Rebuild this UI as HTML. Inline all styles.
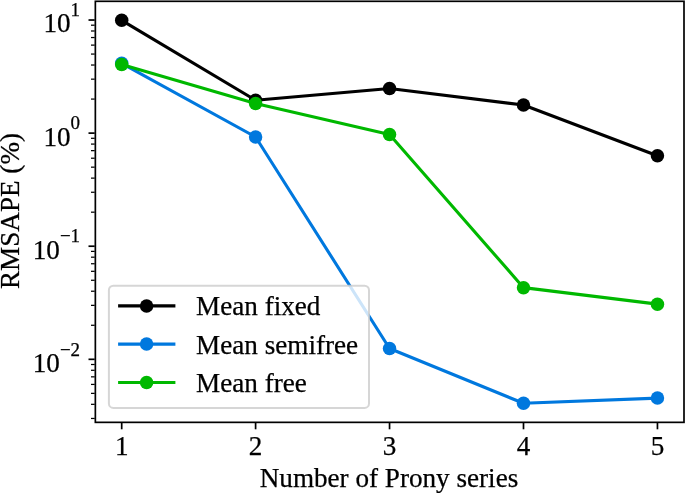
<!DOCTYPE html>
<html lang="en"><head><meta charset="utf-8"><title>RMSAPE vs Number of Prony series</title>
<style>html,body{margin:0;padding:0;background:#fff;overflow:hidden}svg{display:block}text{stroke:#000;stroke-width:0.25px;font-family:"Liberation Serif","Times New Roman",Times,serif;fill:#000}</style></head><body>
<svg width="685" height="493" viewBox="0 0 685 493">
<rect x="0" y="0" width="685" height="493" fill="#fff"/>
<g><line x1="88.50" x2="94.70" y1="20.03" y2="20.03" stroke="#000" stroke-width="1.7"/><line x1="88.50" x2="94.70" y1="133.12" y2="133.12" stroke="#000" stroke-width="1.7"/><line x1="88.50" x2="94.70" y1="246.22" y2="246.22" stroke="#000" stroke-width="1.7"/><line x1="88.50" x2="94.70" y1="359.32" y2="359.32" stroke="#000" stroke-width="1.7"/><line x1="91.00" x2="94.70" y1="99.08" y2="99.08" stroke="#000" stroke-width="1.25"/><line x1="91.00" x2="94.70" y1="79.16" y2="79.16" stroke="#000" stroke-width="1.25"/><line x1="91.00" x2="94.70" y1="65.03" y2="65.03" stroke="#000" stroke-width="1.25"/><line x1="91.00" x2="94.70" y1="54.07" y2="54.07" stroke="#000" stroke-width="1.25"/><line x1="91.00" x2="94.70" y1="45.12" y2="45.12" stroke="#000" stroke-width="1.25"/><line x1="91.00" x2="94.70" y1="37.54" y2="37.54" stroke="#000" stroke-width="1.25"/><line x1="91.00" x2="94.70" y1="30.99" y2="30.99" stroke="#000" stroke-width="1.25"/><line x1="91.00" x2="94.70" y1="25.20" y2="25.20" stroke="#000" stroke-width="1.25"/><line x1="91.00" x2="94.70" y1="212.18" y2="212.18" stroke="#000" stroke-width="1.25"/><line x1="91.00" x2="94.70" y1="192.26" y2="192.26" stroke="#000" stroke-width="1.25"/><line x1="91.00" x2="94.70" y1="178.13" y2="178.13" stroke="#000" stroke-width="1.25"/><line x1="91.00" x2="94.70" y1="167.17" y2="167.17" stroke="#000" stroke-width="1.25"/><line x1="91.00" x2="94.70" y1="158.22" y2="158.22" stroke="#000" stroke-width="1.25"/><line x1="91.00" x2="94.70" y1="150.64" y2="150.64" stroke="#000" stroke-width="1.25"/><line x1="91.00" x2="94.70" y1="144.09" y2="144.09" stroke="#000" stroke-width="1.25"/><line x1="91.00" x2="94.70" y1="138.30" y2="138.30" stroke="#000" stroke-width="1.25"/><line x1="91.00" x2="94.70" y1="325.28" y2="325.28" stroke="#000" stroke-width="1.25"/><line x1="91.00" x2="94.70" y1="305.36" y2="305.36" stroke="#000" stroke-width="1.25"/><line x1="91.00" x2="94.70" y1="291.23" y2="291.23" stroke="#000" stroke-width="1.25"/><line x1="91.00" x2="94.70" y1="280.27" y2="280.27" stroke="#000" stroke-width="1.25"/><line x1="91.00" x2="94.70" y1="271.32" y2="271.32" stroke="#000" stroke-width="1.25"/><line x1="91.00" x2="94.70" y1="263.74" y2="263.74" stroke="#000" stroke-width="1.25"/><line x1="91.00" x2="94.70" y1="257.19" y2="257.19" stroke="#000" stroke-width="1.25"/><line x1="91.00" x2="94.70" y1="251.40" y2="251.40" stroke="#000" stroke-width="1.25"/><line x1="91.00" x2="94.70" y1="418.46" y2="418.46" stroke="#000" stroke-width="1.25"/><line x1="91.00" x2="94.70" y1="404.33" y2="404.33" stroke="#000" stroke-width="1.25"/><line x1="91.00" x2="94.70" y1="393.37" y2="393.37" stroke="#000" stroke-width="1.25"/><line x1="91.00" x2="94.70" y1="384.42" y2="384.42" stroke="#000" stroke-width="1.25"/><line x1="91.00" x2="94.70" y1="376.84" y2="376.84" stroke="#000" stroke-width="1.25"/><line x1="91.00" x2="94.70" y1="370.29" y2="370.29" stroke="#000" stroke-width="1.25"/><line x1="91.00" x2="94.70" y1="364.50" y2="364.50" stroke="#000" stroke-width="1.25"/><line x1="121.70" x2="121.70" y1="423.00" y2="429.30" stroke="#000" stroke-width="1.7"/><line x1="255.60" x2="255.60" y1="423.00" y2="429.30" stroke="#000" stroke-width="1.7"/><line x1="389.55" x2="389.55" y1="423.00" y2="429.30" stroke="#000" stroke-width="1.7"/><line x1="523.50" x2="523.50" y1="423.00" y2="429.30" stroke="#000" stroke-width="1.7"/><line x1="657.45" x2="657.45" y1="423.00" y2="429.30" stroke="#000" stroke-width="1.7"/></g>
<g><polyline points="121.70,20.35 255.60,100.20 389.55,88.50 523.50,105.00 657.45,155.75" fill="none" stroke="#000000" stroke-width="3.1" stroke-linejoin="round" stroke-linecap="butt"/><circle cx="121.70" cy="20.35" r="6.75" fill="#000000"/><circle cx="255.60" cy="100.20" r="6.75" fill="#000000"/><circle cx="389.55" cy="88.50" r="6.75" fill="#000000"/><circle cx="523.50" cy="105.00" r="6.75" fill="#000000"/><circle cx="657.45" cy="155.75" r="6.75" fill="#000000"/><polyline points="121.70,63.30 255.60,137.00 389.55,348.50 523.50,403.30 657.45,398.10" fill="none" stroke="#0078DE" stroke-width="3.1" stroke-linejoin="round" stroke-linecap="butt"/><circle cx="121.70" cy="63.30" r="6.75" fill="#0078DE"/><circle cx="255.60" cy="137.00" r="6.75" fill="#0078DE"/><circle cx="389.55" cy="348.50" r="6.75" fill="#0078DE"/><circle cx="523.50" cy="403.30" r="6.75" fill="#0078DE"/><circle cx="657.45" cy="398.10" r="6.75" fill="#0078DE"/><polyline points="121.70,64.40 255.60,103.40 389.55,134.40 523.50,287.65 657.45,304.15" fill="none" stroke="#00B800" stroke-width="3.1" stroke-linejoin="round" stroke-linecap="butt"/><circle cx="121.70" cy="64.40" r="6.75" fill="#00B800"/><circle cx="255.60" cy="103.40" r="6.75" fill="#00B800"/><circle cx="389.55" cy="134.40" r="6.75" fill="#00B800"/><circle cx="523.50" cy="287.65" r="6.75" fill="#00B800"/><circle cx="657.45" cy="304.15" r="6.75" fill="#00B800"/></g>
<rect x="95.35" y="1.30" width="588.65" height="421.05" fill="none" stroke="#000" stroke-width="1.7"/>
<rect x="108.9" y="285.7" width="260.10" height="122.20" rx="4.5" ry="4.5" fill="#fff" fill-opacity="0.8" stroke="#ccc" stroke-opacity="0.8" stroke-width="2"/>
<line x1="118.1" x2="175.4" y1="305.9" y2="305.9" stroke="#000000" stroke-width="3.1"/><circle cx="146.6" cy="305.9" r="6.75" fill="#000000"/>
<text x="196.1" y="315.1" font-size="27.15">Mean fixed</text>
<line x1="118.1" x2="175.4" y1="344.1" y2="344.1" stroke="#0078DE" stroke-width="3.1"/><circle cx="146.6" cy="344.1" r="6.75" fill="#0078DE"/>
<text x="196.1" y="353.6" font-size="27.15">Mean semifree</text>
<line x1="118.1" x2="175.4" y1="382.5" y2="382.5" stroke="#00B800" stroke-width="3.1"/><circle cx="146.6" cy="382.5" r="6.75" fill="#00B800"/>
<text x="196.1" y="392.0" font-size="27.15">Mean free</text>
<text x="80.1" y="32.43" font-size="27.15" text-anchor="end">10<tspan dy="-16.2" font-size="19.00">1</tspan></text>
<text x="80.1" y="145.53" font-size="27.15" text-anchor="end">10<tspan dy="-16.2" font-size="19.00">0</tspan></text>
<text x="80.1" y="258.62" font-size="27.15" text-anchor="end">10<tspan dy="-16.2" font-size="19.00">−1</tspan></text>
<text x="80.1" y="371.72" font-size="27.15" text-anchor="end">10<tspan dy="-16.2" font-size="19.00">−2</tspan></text>
<text x="121.70" y="455.3" font-size="27.15" text-anchor="middle">1</text>
<text x="255.60" y="455.3" font-size="27.15" text-anchor="middle">2</text>
<text x="389.55" y="455.3" font-size="27.15" text-anchor="middle">3</text>
<text x="523.50" y="455.3" font-size="27.15" text-anchor="middle">4</text>
<text x="657.45" y="455.3" font-size="27.15" text-anchor="middle">5</text>
<text x="389" y="487.1" font-size="27.15" text-anchor="middle">Number of Prony series</text>
<text transform="translate(18.8,211) rotate(-90)" font-size="27.15" text-anchor="middle">RMSAPE (%)</text>
</svg></body></html>
